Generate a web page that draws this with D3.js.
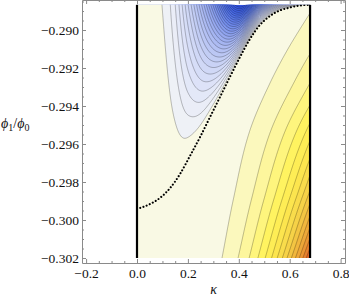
<!DOCTYPE html>
<html><head><meta charset="utf-8">
<script src="https://cdn.jsdelivr.net/npm/d3@7/dist/d3.min.js"></script>
<style>
html,body{margin:0;padding:0;background:#fff;overflow:hidden}
svg{display:block}
text{font-family:"Liberation Serif","Times New Roman",serif;fill:#111}
</style></head>
<body>
<svg id="chart" width="349" height="298"></svg>
<script>
// ---------------- data ----------------
const kappaRange = [0, 0.68];
const phiRange = [-0.302, -0.288675];
const xTickValues = [-0.2, 0, 0.2, 0.4, 0.6, 0.8];
const xTickLabels = ["\u22120.2", "0.0", "0.2", "0.4", "0.6", "0.8"];
const yTickValues = [-0.302, -0.300, -0.298, -0.296, -0.294, -0.292, -0.290];
const yTickLabels = ["\u22120.302", "\u22120.300", "\u22120.298", "\u22120.296", "\u22120.294", "\u22120.292", "\u22120.290"];
const xMinorTicks = [-0.15, -0.1, -0.05, 0.05, 0.1, 0.15, 0.25, 0.3, 0.35, 0.45, 0.5, 0.55, 0.65, 0.7, 0.75];
const yMinorTicks = [-0.3015, -0.301, -0.3005, -0.2995, -0.299, -0.2985, -0.2975, -0.297, -0.2965, -0.2955, -0.295, -0.2945,
                     -0.2935, -0.293, -0.2925, -0.2915, -0.291, -0.2905, -0.2895, -0.289, -0.2885];

// dotted boundary curve
const boundaryKappa = [0, 0.051, 0.090, 0.130, 0.169, 0.208, 0.248, 0.287, 0.326, 0.365, 0.405, 0.444, 0.483, 0.523, 0.562, 0.601, 0.640, 0.680];
const boundaryPhi = [-0.29942, -0.29916, -0.29884, -0.29832, -0.29758, -0.29663, -0.29563, -0.29458, -0.29353, -0.29247,
                     -0.29142, -0.29047, -0.28974, -0.28926, -0.28897, -0.28882, -0.28871, -0.288675];

// blue (negative) side: contour-levels per unit of normalised height above the boundary
const blueKappa = [0, 0.098, 0.141, 0.177, 0.200, 0.318, 0.413, 0.50, 0.60, 0.68];
const blueSteep = [0.35, 1.32, 3.5, 7.6, 11.3, 51.5, 158, 255, 440, 700];

// yellow (positive) side: onset and width of the rise along kappa, per phi row
const yellowPhi = [-0.302, -0.29895, -0.29527, -0.29281, -0.29107, -0.288675];
const yellowShift = [0.065, 0.075, 0.092, 0.126, 0.171, 0.224];
const yellowWidth = [0.269, 0.303, 0.352, 0.396, 0.419, 0.476];
const yellowPower = 3.29;

const contourLevels = [-29, -28, -27, -26, -25, -24, -23, -22, -21, -20, -19, -18, -17, -16, -15, -14, -13, -12, -11, -10,
                       -9, -8, -7, -6, -5, -4, -3, -2, -1, 1, 2, 3, 4, 5, 6, 7, 8, 9, 10, 11, 12, 13, 14, 15];
const bluePos = [0, 0.07, 0.14, 0.3, 0.5, 0.65, 0.8, 1];
const blueColors = ["#f4f5f2", "#eceff7", "#dfe4f8", "#bfcaf4", "#93a6ef", "#6d88ea", "#4d6ee5", "#2f50e0"];
const creamColor = "#f9f9e4";
const yellowPos = [0, 0.08, 0.17, 0.27, 0.38, 0.5, 0.62, 0.75, 0.87, 1];
const yellowColors = ["#f9f9e2", "#fbf8c4", "#fdf696", "#fff462", "#fde94f", "#f8d84a", "#f2c040", "#eda035", "#e4782c", "#d43c23"];

// ---------------- helpers ----------------
function monotone(xs, ys) {
  const n = xs.length, d = [], m = new Array(n);
  for (let i = 0; i < n - 1; i++) d[i] = (ys[i + 1] - ys[i]) / (xs[i + 1] - xs[i]);
  m[0] = d[0]; m[n - 1] = d[n - 2];
  for (let i = 1; i < n - 1; i++) m[i] = d[i - 1] * d[i] <= 0 ? 0 : (d[i - 1] + d[i]) / 2;
  for (let i = 0; i < n - 1; i++) {
    if (d[i] === 0) { m[i] = 0; m[i + 1] = 0; continue; }
    const a = m[i] / d[i], b = m[i + 1] / d[i], s = a * a + b * b;
    if (s > 9) { const t = 3 / Math.sqrt(s); m[i] = t * a * d[i]; m[i + 1] = t * b * d[i]; }
  }
  return function (v) {
    if (v <= xs[0]) return ys[0] + m[0] * (v - xs[0]);
    if (v >= xs[n - 1]) return ys[n - 1] + m[n - 1] * (v - xs[n - 1]);
    let i = d3.bisectRight(xs, v) - 1;
    const h = xs[i + 1] - xs[i], t = (v - xs[i]) / h;
    const t2 = t * t, t3 = t2 * t;
    return (2 * t3 - 3 * t2 + 1) * ys[i] + (t3 - 2 * t2 + t) * h * m[i] + (-2 * t3 + 3 * t2) * ys[i + 1] + (t3 - t2) * h * m[i + 1];
  };
}

const boundaryAt = monotone(boundaryKappa, boundaryPhi);
const lnSteepAt = monotone(blueKappa, blueSteep.map(Math.log));
const shiftAt = monotone(yellowPhi, yellowShift);
const widthAt = monotone(yellowPhi, yellowWidth);
const phiSpan = phiRange[1] - phiRange[0];

function fieldValue(k, p) {
  const s = (p - boundaryAt(k)) / phiSpan;
  if (s > 0) return -s * Math.exp(lnSteepAt(k));
  const u = (k - shiftAt(p)) / widthAt(p);
  return u > 0 ? Math.pow(u, yellowPower) : 0;
}

// ---------------- scales ----------------
const frameKappa = [-0.2161, 0.8173];
const framePhi = [-0.302263, -0.288421];
const x = d3.scaleLinear().domain(frameKappa).range([82, 345]);
const y = d3.scaleLinear().domain(framePhi).range([263, 0]);
const blueScale = d3.scaleLinear().domain(bluePos).range(blueColors).interpolate(d3.interpolateRgb).clamp(true);
const yellowScale = d3.scaleLinear().domain(yellowPos).range(yellowColors).interpolate(d3.interpolateRgb).clamp(true);

const svg = d3.select("#chart");

// ---------------- contour field ----------------
const step = 0.5;
const dk = step / (x(1) - x(0));
const dp = step / (y(0) - y(1));
const k0 = kappaRange[0] - 4 * dk, k1 = kappaRange[1] + 4 * dk;
const pTop = phiRange[1] + 4 * dp, pBot = phiRange[0] - 4 * dp;
const nx = Math.ceil((k1 - k0) / dk) + 1, ny = Math.ceil((pTop - pBot) / dp) + 1;
const values = new Float64Array(nx * ny);
for (let j = 0; j < ny; j++) {
  const p = pTop - j * dp;
  for (let i = 0; i < nx; i++) values[j * nx + i] = fieldValue(k0 + i * dk, p);
}
const contours = d3.contours().size([nx, ny]).thresholds(contourLevels)(values);
const proj = d3.geoTransform({
  point: function (gx, gy) { this.stream.point(x(k0 + (gx - 0.5) * dk), y(pTop - (gy - 0.5) * dp)); }
});
const path = d3.geoPath(proj);

function bandColor(v) {
  if (v <= -1) return blueScale(-v / 30);
  if (v < 1) return creamColor;
  return yellowScale(v / 16);
}

svg.append("defs").append("clipPath").attr("id", "dom")
  .append("rect")
  .attr("x", x(kappaRange[0])).attr("y", y(phiRange[1]))
  .attr("width", x(kappaRange[1]) - x(kappaRange[0]))
  .attr("height", y(phiRange[0]) - y(phiRange[1]));

const gPlot = svg.append("g").attr("clip-path", "url(#dom)");
gPlot.append("rect")
  .attr("x", x(kappaRange[0])).attr("y", y(phiRange[1]))
  .attr("width", x(kappaRange[1]) - x(kappaRange[0]))
  .attr("height", y(phiRange[0]) - y(phiRange[1]))
  .attr("fill", bandColor(contourLevels[0] - 0.5));

contours.forEach((c, i) => {
  const lo = contourLevels[i];
  const hi = i + 1 < contourLevels.length ? contourLevels[i + 1] : lo + 1;
  const mid = (lo < 0 && hi > 0) ? 0 : (lo + hi) / 2;
  gPlot.append("path").attr("d", path(c)).attr("fill", bandColor(mid)).attr("stroke", "none");
});
contours.forEach(c => {
  gPlot.append("path").attr("d", path(c)).attr("fill", "none")
    .attr("stroke", "#000").attr("stroke-opacity", 0.4).attr("stroke-width", 0.65);
});

// dotted boundary
const boundaryLine = d3.line().x(d => x(d[0])).y(d => y(d[1])).curve(d3.curveMonotoneX);
gPlot.append("path")
  .attr("d", boundaryLine(boundaryKappa.map((k, i) => [k, boundaryPhi[i]])))
  .attr("fill", "none").attr("stroke", "#000").attr("stroke-width", 2.1)
  .attr("stroke-linecap", "round").attr("stroke-dasharray", "0.01 3.4");

// black edges of the domain
[kappaRange[0], kappaRange[1]].forEach(k => {
  svg.append("line")
    .attr("x1", x(k)).attr("x2", x(k))
    .attr("y1", y(phiRange[1])).attr("y2", y(phiRange[0]))
    .attr("stroke", "#000").attr("stroke-width", 2.2);
});

// ---------------- frame / axes ----------------
const frameColor = "#8a8a8a";
function styleAxis(g) {
  g.selectAll(".domain").attr("stroke", frameColor);
  g.selectAll(".tick line").attr("stroke", frameColor);
  g.selectAll("text").attr("font-family", "Liberation Serif, Times New Roman, serif").attr("font-size", "13.5px").attr("fill", "#111");
}
const minor = (axisFn, scale, vals) => axisFn(scale).tickValues(vals).tickFormat("").tickSizeInner(-2).tickSizeOuter(0);

const gB = svg.append("g").attr("transform", `translate(0,${y(framePhi[0])})`)
  .call(d3.axisBottom(x).tickValues(xTickValues).tickFormat((d, i) => xTickLabels[i]).tickSizeInner(-4).tickSizeOuter(0).tickPadding(5));
styleAxis(gB);
const gBm = svg.append("g").attr("transform", `translate(0,${y(framePhi[0])})`).call(minor(d3.axisBottom, x, xMinorTicks));
gBm.select(".domain").remove(); styleAxis(gBm);

const gT = svg.append("g").attr("transform", `translate(0,${y(framePhi[1])})`)
  .call(d3.axisTop(x).tickValues(xTickValues).tickFormat("").tickSizeInner(-4).tickSizeOuter(0));
styleAxis(gT);
const gTm = svg.append("g").attr("transform", `translate(0,${y(framePhi[1])})`).call(minor(d3.axisTop, x, xMinorTicks));
gTm.select(".domain").remove(); styleAxis(gTm);

const gL = svg.append("g").attr("transform", `translate(${x(frameKappa[0])},0)`)
  .call(d3.axisLeft(y).tickValues(yTickValues).tickFormat((d, i) => yTickLabels[i]).tickSizeInner(-4).tickSizeOuter(0).tickPadding(3));
styleAxis(gL);
const gLm = svg.append("g").attr("transform", `translate(${x(frameKappa[0])},0)`).call(minor(d3.axisLeft, y, yMinorTicks));
gLm.select(".domain").remove(); styleAxis(gLm);

const gR = svg.append("g").attr("transform", `translate(${x(frameKappa[1])},0)`)
  .call(d3.axisRight(y).tickValues(yTickValues).tickFormat("").tickSizeInner(-4).tickSizeOuter(0));
styleAxis(gR);
const gRm = svg.append("g").attr("transform", `translate(${x(frameKappa[1])},0)`).call(minor(d3.axisRight, y, yMinorTicks));
gRm.select(".domain").remove(); styleAxis(gRm);

// ---------------- labels ----------------
const yl = svg.append("text").attr("x", 1).attr("y", 128).attr("font-size", "14px").attr("font-style", "italic");
yl.append("tspan").text("\u03D5");
yl.append("tspan").attr("font-style", "normal").attr("font-size", "10px").attr("dy", 3).text("1");
yl.append("tspan").attr("font-style", "normal").attr("dy", -3).text("/");
yl.append("tspan").text("\u03D5");
yl.append("tspan").attr("font-style", "normal").attr("font-size", "10px").attr("dy", 3).text("0");

svg.append("text").attr("x", 213.5).attr("y", 294).attr("text-anchor", "middle")
  .attr("font-family", "Liberation Sans, Arial, sans-serif").attr("font-style", "italic").attr("font-size", "14px").text("\u03BA");
</script>
</body></html>
